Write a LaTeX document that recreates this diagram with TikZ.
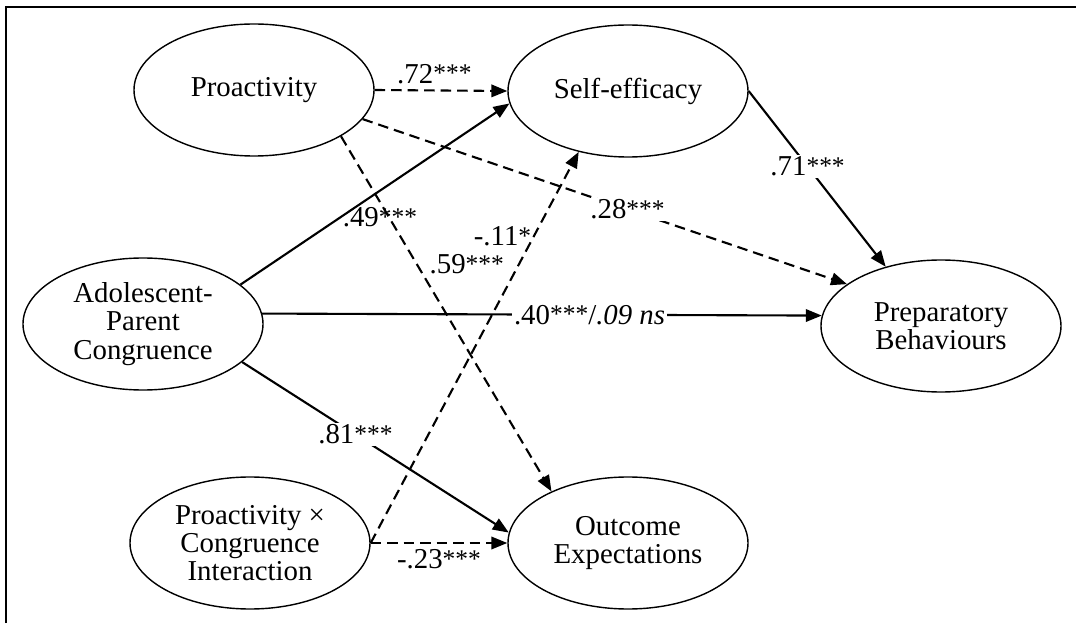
\documentclass[tikz,border=0pt]{standalone}
\usepackage{fontspec}
\setmainfont{Liberation Serif}
\usetikzlibrary{shapes.geometric,arrows.meta}
\newcommand{\sig}[1]{\raisebox{0.04em}{\fontsize{14.5}{14.5}\selectfont #1}}

\begin{document}
\begin{tikzpicture}[>={Triangle[length=0.32cm,width=0.25cm]},
  font=\fontsize{16.4}{16}\selectfont,
  var/.style={ellipse,draw,line width=0.8pt,minimum width=4.8cm,minimum height=2.64cm,inner sep=0pt,align=center},
  eff/.style={->,line width=1.2pt},
  deff/.style={eff,dash pattern=on 0.21cm off 0.12cm},
  coef/.style={fill=white,inner sep=1pt}]
\useasboundingbox (0,0) rectangle (21.52,12.46);
\draw[line width=1.6pt] (0.12,0) -- (0.12,12.32) -- (21.52,12.32);

\node[var] (pro) at (5.08,10.66) {Proactivity};
\node[var] (self) at (12.56,10.64) {Self-efficacy};
\node[var] (apc) at (2.86,5.98) {Adolescent-\\Parent\\Congruence};
\node[var] (prep) at (18.82,5.94) {Preparatory\\Behaviours};
\node[var] (inter) at (5.00,1.60) {Proactivity ×\\Congruence\\Interaction};
\node[var] (out) at (12.56,1.60) {Outcome\\Expectations};

\draw[deff] (pro.east) -- node[pos=0.45,above] {.72\sig{***}} (self.west);
\draw[deff] (pro.-15) -- node[pos=0.547,coef] {.28\sig{***}} (prep.156);
\draw[deff] (pro.-28) -- node[pos=0.36,right,xshift=0.12cm] {.59\sig{***}} (out.146);
\draw[eff] (apc.22) -- node[pos=0.5,xshift=0.1cm,yshift=-0.46cm] {.49\sig{***}} (self.-174);
\draw[eff] (apc.5) -- node[pos=0.585,coef] {.40\sig{***}/\textit{.09 ns}} (prep.175);
\draw[eff] (apc.-21) -- node[pos=0.425,coef] {.81\sig{***}} (out.175);
\draw[deff] (inter.east) -- node[pos=0.785,left,inner sep=1pt] {-.11\sig{*}} (self.-129);
\draw[deff] (inter.east) -- node[below] {-.23\sig{***}} (out.west);
\draw[eff] (self.east) -- node[pos=0.43,coef] {.71\sig{***}} (prep.133);
\end{tikzpicture}
\end{document}
